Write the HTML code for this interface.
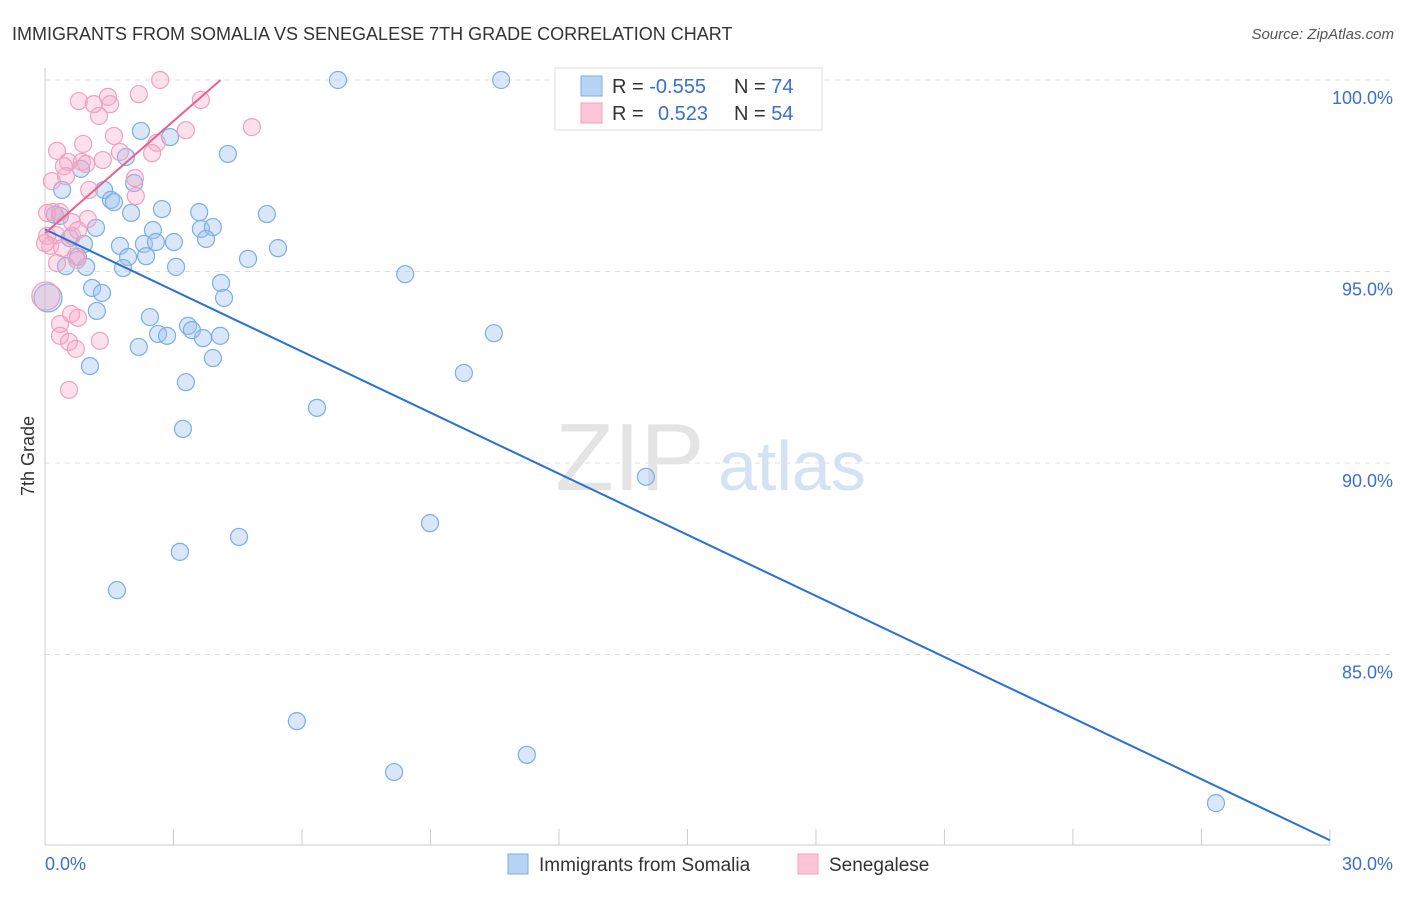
<!DOCTYPE html>
<html><head><meta charset="utf-8">
<style>
body{margin:0;background:#fff;font-family:"Liberation Sans",sans-serif;}
svg text{font-family:"Liberation Sans",sans-serif;}
</style></head>
<body>
<svg id="chart" width="1406" height="892">
<text x="12" y="40" font-size="18" fill="#333">IMMIGRANTS FROM SOMALIA VS SENEGALESE 7TH GRADE CORRELATION CHART</text>
<text x="1394" y="39" font-size="15" fill="#555" text-anchor="end" font-style="italic">Source: ZipAtlas.com</text>
<text x="34" y="456" font-size="18" fill="#333" text-anchor="middle" transform="rotate(-90 34 456)">7th Grade</text>
<g id="grid"></g>
<text x="555" y="490" font-size="96" fill="#e4e4e4" font-family="Liberation Serif">ZIP</text>
<text x="718" y="490" font-size="70" fill="#d4e2f4">atlas</text>
<g id="axes"></g>
<g id="points"></g>
<g id="lines"></g>
<g>
<rect x="555" y="68" width="267" height="62" fill="#fff" stroke="#ddd"/>
<rect x="581" y="76" width="21" height="20" fill="#b8d4f4" stroke="#7aaee8"/>
<rect x="581" y="103" width="21" height="20" fill="#fcc6d8" stroke="#f0a0be"/>
<text x="612" y="93" font-size="20" fill="#333">R = <tspan fill="#3a6fd0">-0.555</tspan></text>
<text x="734" y="93" font-size="20" fill="#333">N = <tspan fill="#3a6fd0">74</tspan></text>
<text x="612" y="120" font-size="20" fill="#333">R = <tspan fill="#3a6fd0" x="658">0.523</tspan></text>
<text x="734" y="120" font-size="20" fill="#333">N = <tspan fill="#3a6fd0">54</tspan></text>
</g>
<g>
<rect x="508" y="854" width="20" height="20" fill="#b8d4f4" stroke="#7aaee8"/>
<text x="539" y="871" font-size="19" fill="#333">Immigrants from Somalia</text>
<rect x="798" y="854" width="20" height="20" fill="#fcc6d8" stroke="#f0a0be"/>
<text x="829" y="871" font-size="19" fill="#333">Senegalese</text>
</g>
</svg>
<script>
const blueX=[6.84,10.65,2.24,2.92,4.27,1.89,0.84,0.40,1.38,2.08,1.54,1.61,2.73,2.01,3.60,5.18,0.23,0.35,1.19,2.52,3.64,3.92,3.76,0.58,0.91,1.75,2.31,2.59,3.01,5.44,1.94,2.36,0.77,0.49,0.96,1.82,3.06,4.74,8.41,4.11,1.10,1.33,4.18,0.07,1.21,2.45,3.34,3.43,2.64,2.85,3.69,4.09,10.48,2.19,3.92,1.05,9.78,3.29,6.35,3.22,14.03,8.99,4.53,3.15,1.68,5.88,11.25,8.15,27.34];
const blueY=[100.0,100.0,98.67,98.51,98.07,97.99,97.68,97.13,97.13,97.31,96.87,96.81,96.63,96.53,96.55,96.50,96.48,96.45,96.14,96.08,96.11,96.16,95.85,95.87,95.72,95.67,95.72,95.77,95.77,95.61,95.38,95.40,95.38,95.14,95.12,95.09,95.12,95.33,94.93,94.70,94.57,94.44,94.31,94.31,93.97,93.81,93.58,93.47,93.37,93.32,93.26,93.32,93.39,93.03,92.74,92.53,92.35,92.11,91.44,90.89,89.64,88.43,88.07,87.68,86.68,83.26,82.38,81.93,81.12];
const pinkX=[2.69,0.79,1.14,1.52,1.47,2.19,3.64,4.83,3.29,1.26,1.61,0.89,2.61,0.28,2.50,1.35,0.54,0.86,0.44,0.96,0.16,2.10,0.49,1.03,2.12,0.19,0.05,0.35,1.00,0.63,0.05,0.26,0.63,0.12,0.40,0.72,0.28,0.02,0.61,0.77,0.35,0.35,0.56,1.28,0.72,0.56,0,1.75,0.75,0.77];
const pinkY=[100.0,99.45,99.37,99.37,99.56,99.63,99.48,98.77,98.69,99.06,98.54,98.33,98.36,98.15,98.09,97.91,97.86,97.86,97.75,97.81,97.36,97.44,97.49,97.13,96.97,96.55,96.53,96.55,96.37,96.29,95.93,95.95,95.93,95.67,95.61,95.40,95.22,94.36,93.89,93.79,93.63,93.32,93.16,93.19,92.98,91.91,95.74,98.12,95.30,96.08];
const yTicks=[100,95,90,85];
const yTickLabels=["100.0%","95.0%","90.0%","85.0%"];
const xTicks=[0,3,6,9,12,15,18,21,24,27,30];
const blueTrend=[[0,96.1],[30,80.15]];
const pinkTrend=[[0,96.0],[4.1,100.0]];
const NS='http://www.w3.org/2000/svg';
const sx=v=>45+v*42.83, sy=v=>80+(100-v)*38.3;
function mk(p,tag,attrs){const e=document.createElementNS(NS,tag);for(const k in attrs)e.setAttribute(k,attrs[k]);p.appendChild(e);return e;}
const grid=document.getElementById('grid'),axes=document.getElementById('axes'),pts=document.getElementById('points'),lines=document.getElementById('lines');
yTicks.forEach((t,i)=>{
 const l=mk(grid,'line',{x1:45,x2:1395,y1:sy(t),y2:sy(t),stroke:'#ddd','stroke-dasharray':'5,5'});
 
 
 const tx=mk(grid,'text',{x:1393,y:sy(t)+24,'font-size':18,fill:'#3a6fd0','text-anchor':'end'});
 tx.textContent=yTickLabels[i];
 
 
});
const ax=mk(axes,'line',{x1:45,x2:45,y1:68,y2:845,stroke:'#ccc'});


const bx=mk(axes,'line',{x1:45,x2:1330,y1:845,y2:845,stroke:'#ccc'});


xTicks.forEach(t=>{const l=mk(axes,'line',{x1:sx(t),x2:sx(t),y1:829,y2:845,stroke:'#ccc'});
 
 });
const xl=mk(axes,'text',{x:45,y:870,'font-size':18,fill:'#3a6fd0'});xl.textContent='0.0%';


const xr=mk(axes,'text',{x:1393,y:870,'font-size':18,fill:'#3a6fd0','text-anchor':'end'});xr.textContent='30.0%';


function dots(X,Y,fill,stroke,name){X.forEach((x,i)=>{const r=(x<0.1&&Y[i]<94.5)?14:8.5;
 const c=mk(pts,'circle',{cx:sx(x),cy:sy(Y[i]),r:r,fill:fill,stroke:stroke,'stroke-width':1.2});
 
 });}
dots(blueX,blueY,'rgba(160,196,240,0.4)','#7aaee8','somalia-point');
dots(pinkX,pinkY,'rgba(245,170,200,0.35)','#f0a0be','senegalese-point');
const bl=mk(lines,'line',{x1:sx(blueTrend[0][0]),y1:sy(blueTrend[0][1]),x2:sx(blueTrend[1][0]),y2:sy(blueTrend[1][1]),stroke:'#2a70d6','stroke-width':2});


const pl=mk(lines,'line',{x1:sx(pinkTrend[0][0]),y1:sy(pinkTrend[0][1]),x2:sx(pinkTrend[1][0]),y2:sy(pinkTrend[1][1]),stroke:'#e8608c','stroke-width':2});


</script>
</body></html>
